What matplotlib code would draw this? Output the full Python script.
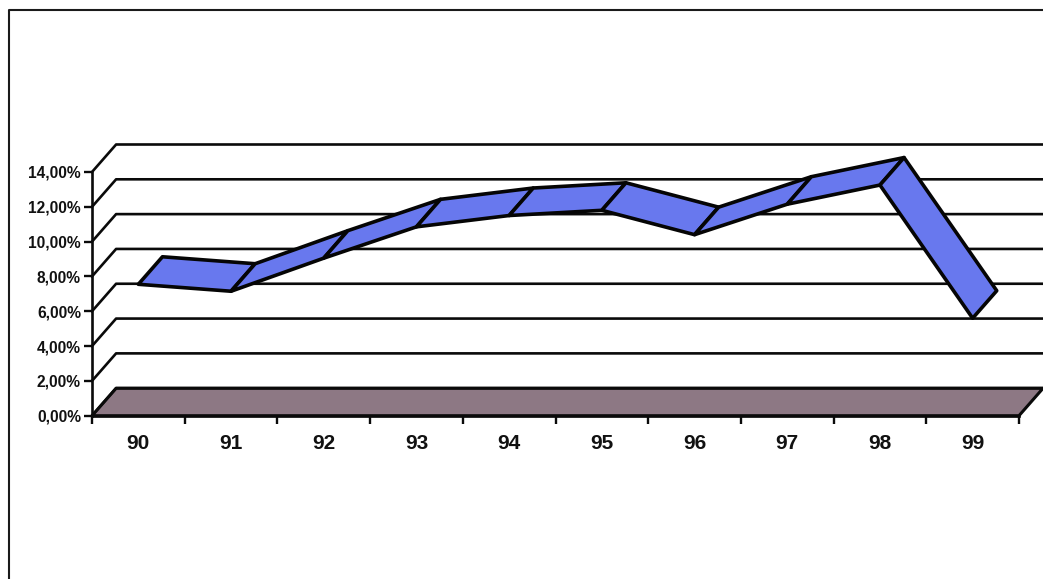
import matplotlib
matplotlib.use('Agg')
import matplotlib.pyplot as plt
from matplotlib.lines import Line2D

# Data
years = ['90', '91', '92', '93', '94', '95', '96', '97', '98', '99']
rates = [7.55, 7.15, 9.05, 10.85, 11.5, 11.8, 10.4, 12.15, 13.25, 5.6]
y_ticks = [0, 2, 4, 6, 8, 10, 12, 14]
y_labels = ['0,00%', '2,00%', '4,00%', '6,00%', '8,00%', '10,00%', '12,00%', '14,00%']

# Depth of the fake 3D box, in data units
dx = 0.26
dy = 1.58
x_end = 10.26

plt.rcParams['font.family'] = ['Liberation Sans', 'DejaVu Sans']

fig = plt.figure(figsize=(10.43, 5.79), dpi=100)

# Outer frame, only the left and top edges are on the scan
fig.add_artist(Line2D([8.5 / 1043, 8.5 / 1043, 1], [0, 1 - 10 / 579, 1 - 10 / 579], transform=fig.transFigure,
                      color='#1a1a1a', lw=1.5))

ax = fig.add_axes([92 / 1043, 1 - 415.7 / 579, 927 / 1043, 243.7 / 579])
ax.set_xlim(0, 10)
ax.set_ylim(0, 14)
ax.patch.set_alpha(0)

# Floor
ax.fill([0, dx, x_end, 10], [0, dy, dy, 0], fc='#8d7884', ec='#0a0a0a', lw=2.2, clip_on=False, zorder=1, joinstyle='round')

# Back wall grid lines and the slanted side wall
for t in y_ticks:
    ax.plot([0, dx, x_end], [t, t + dy, t + dy], color='#0a0a0a', lw=1.9, clip_on=False, zorder=2, solid_joinstyle='round')

# Ribbon, one piece for every step between two years
for i in range(len(rates) - 1):
    x0 = i + 0.5
    x1 = i + 1.5
    xs = [x0, x0 + dx, x1 + dx, x1]
    ys = [rates[i], rates[i] + dy, rates[i + 1] + dy, rates[i + 1]]
    ax.fill(xs, ys, fc='#6878ee', ec='#050505', lw=2.6, clip_on=False, zorder=3, joinstyle='round')

# Axes
for side in ['top', 'right']:
    ax.spines[side].set_visible(False)
for side in ['left', 'bottom']:
    ax.spines[side].set_linewidth(1.9)
    ax.spines[side].set_color('#0a0a0a')
    ax.spines[side].set_zorder(4)

ax.set_yticks(y_ticks)
ax.set_yticklabels(y_labels, fontsize=11.2, fontweight='bold', color='#111111')
ax.set_xticks(range(11))
ax.set_xticklabels([])
ax.set_xticks([i + 0.5 for i in range(10)], minor=True)
ax.set_xticklabels(years, minor=True, fontsize=15, fontweight='bold', color='#111111')
ax.tick_params(axis='x', which='major', length=6, width=1.7, color='#0a0a0a', direction='out')
ax.tick_params(axis='x', which='minor', length=0, pad=13)
ax.tick_params(axis='y', length=6, width=1.7, color='#0a0a0a', pad=2)

fig.savefig('out.png', dpi=100)
